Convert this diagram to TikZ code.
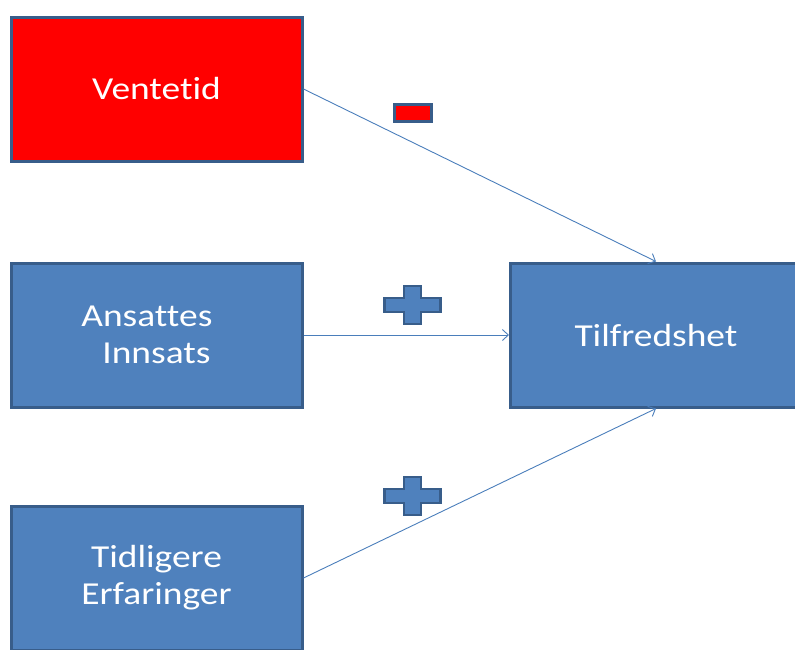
\documentclass[tikz,border=0pt]{standalone}
\usepackage{fontspec}
\setmainfont{Carlito}
\newfontfamily\boxfont[FakeStretch=1.17,Ligatures=NoCommon]{Carlito}
\usetikzlibrary{arrows.meta,positioning}
\definecolor{boxblue}{HTML}{4F81BD}
\definecolor{edgeblue}{HTML}{385D8A}
\definecolor{lineblue}{HTML}{4A7EBB}
\begin{document}
\begin{tikzpicture}[x=1pt,y=-1pt,
 factor/.style={draw=edgeblue,line width=3pt,fill=boxblue,text=white,
   minimum width=291pt,minimum height=144pt,align=center,
   font=\boxfont\fontsize{32}{37}\selectfont},
 arr/.style={-{Straight Barb[length=6pt,width=11pt]},draw=lineblue,line width=0.9pt},
 signbox/.style={draw=edgeblue,line width=2.8pt,fill=boxblue,line join=miter}]
\clip (0,0) rectangle (795,649);
\useasboundingbox (0,0) rectangle (795,649);
\node[factor,fill=red] (vent) at (156.5,89) {Ventetid};
\node[factor] (ans) at (156.5,335) {Ansattes\hspace*{0.6em}\\Innsats};
\node[factor] (tid) at (156.5,578) {Tidligere\\Erfaringer};
\node[factor] (tilf) at (656,335) {Tilfredshet};
\draw[arr] (vent.east) -- (tilf.north);
\draw[arr] (ans) -- (tilf);
\draw[arr] (tid.east) -- (tilf.south);
% fortegn
\node[draw=edgeblue,line width=2.8pt,fill=red,minimum width=37pt,minimum height=17pt,inner sep=0pt] (minus) at (413,113) {};
\coordinate (plusa) at (412.5,305);
\coordinate (plusb) at (412.5,496);
\foreach \p in {plusa,plusb}
 \draw[signbox,shift={(\p)}] (-28,-7) -- (-8.5,-7) -- (-8.5,-19) -- (8.5,-19) -- (8.5,-7)
   -- (28,-7) -- (28,7) -- (8.5,7) -- (8.5,19) -- (-8.5,19) -- (-8.5,7) -- (-28,7) -- cycle;
\end{tikzpicture}
\end{document}
